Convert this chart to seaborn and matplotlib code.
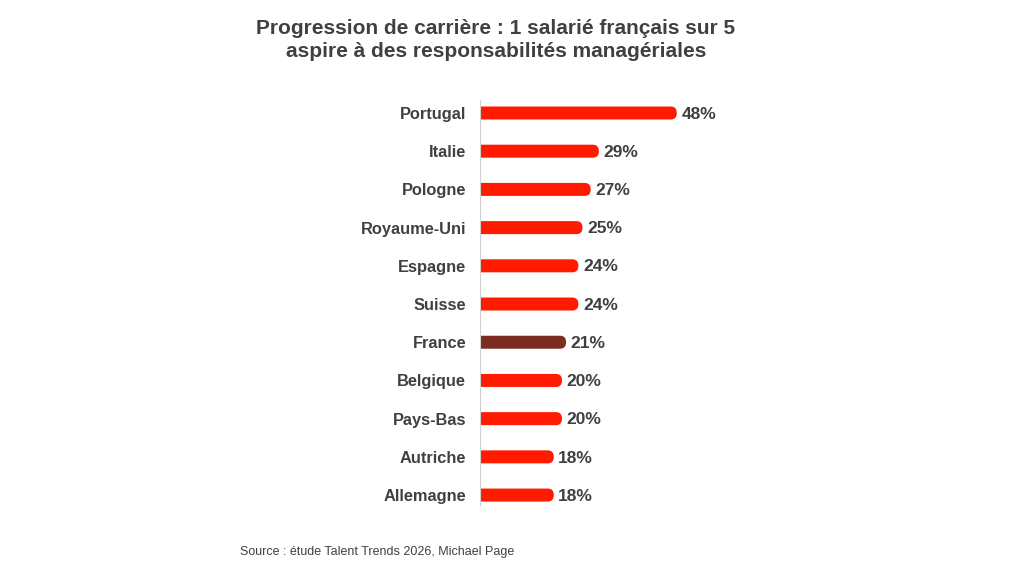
import matplotlib
matplotlib.use("Agg")
import matplotlib.pyplot as plt
from matplotlib.patches import FancyBboxPatch
import seaborn as sns
import pandas as pd

countries = ['Portugal', 'Italie', 'Pologne', 'Royaume-Uni', 'Espagne', 'Suisse',
             'France', 'Belgique', 'Pays-Bas', 'Autriche', 'Allemagne']
values = [48, 29, 27, 25, 24, 24, 21, 20, 20, 18, 18]
highlight = 'France'

red = '#FF1A00'
brown = '#7B2D22'
text_col = '#404040'

df = pd.DataFrame({'pays': countries, 'valeur': values})
palette = {c: (brown if c == highlight else red) for c in countries}

sns.set_style('white')
plt.rcParams['font.family'] = ['Liberation Sans', 'DejaVu Sans']

fig = plt.figure(figsize=(10.24, 5.71), dpi=100)
ax = fig.add_axes([480 / 1024, 1 - 505 / 571, 205 / 1024, 405 / 571])

sns.barplot(data=df, x='valeur', y='pays', hue='pays', palette=palette,
            legend=False, width=0.34, ax=ax, saturation=1)

ax.set_xlim(0, 50)
ax.set_ylim(len(countries) - 1 + 0.26, -0.34)

# replace bars with right-rounded ones
px_per_x = 205 / 50
px_per_y = 405 / (len(countries) + 0.6)
bars = list(ax.patches)
for p in bars:
    x, y, w, h = p.get_x(), p.get_y(), p.get_width(), p.get_height()
    col = p.get_facecolor()
    p.remove()
    r = h * px_per_y / 2 / px_per_x
    box = FancyBboxPatch((x - r, y), w + r, h,
                         boxstyle=f"round,pad=0,rounding_size={r}",
                         mutation_aspect=(h / 2) / r,
                         facecolor=col, edgecolor='none', clip_on=True)
    ax.add_patch(box)
    ax.text(w + 1.1, y + h / 2 + 0.03, f"{int(w)}%", va='center', ha='left',
            fontsize=12.5, fontweight='bold', color=text_col, clip_on=False)

for s in ['top', 'right', 'bottom']:
    ax.spines[s].set_visible(False)
ax.spines['left'].set_color('#D0D0D0')
ax.spines['left'].set_linewidth(0.8)
ax.set_xticks([])
ax.set_xlabel('')
ax.set_ylabel('')
ax.tick_params(axis='y', length=0, pad=10)
for lab in ax.get_yticklabels():
    lab.set_fontsize(11.8)
    lab.set_fontweight('bold')
    lab.set_color(text_col)

fig.text(496 / 1024, 1 - 40 / 571,
         "Progression de carrière : 1 salarié français sur 5\naspire à des responsabilités managériales",
         ha='center', va='center', fontsize=15, fontweight='bold', color=text_col,
         linespacing=1.3)
fig.text(240 / 1024, 1 - 552 / 571, "Source : étude Talent Trends 2026, Michael Page",
         ha='left', va='center', fontsize=9, color=text_col)

fig.savefig('out.png', dpi=100, facecolor='white')
